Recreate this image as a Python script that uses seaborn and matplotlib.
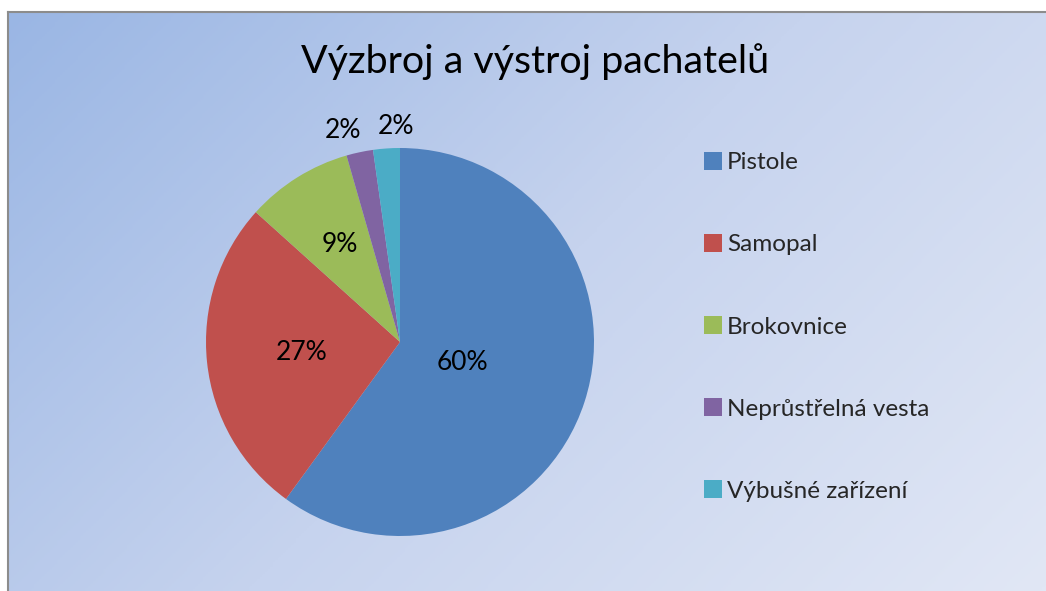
import numpy as np
import matplotlib
matplotlib.use("Agg")
import matplotlib.pyplot as plt
import seaborn as sns
from matplotlib.colors import LinearSegmentedColormap

# data (counts giving 60/27/9/2/2 %)
categories = ["Pistole", "Samopal", "Brokovnice", "Neprůstřelná vesta", "Výbušné zařízení"]
counts = [27, 12, 4, 1, 1]
title = "Výzbroj a výstroj pachatelů"

colors = sns.color_palette(["#4F81BD", "#C0504D", "#9BBB59", "#8064A2", "#4BACC6"])
label_dist = [0.34, 0.51, 0.59, 1.13, 1.11]
label_shift = [0, 0, 0, 3, -3]   # degrees, to keep small labels apart

sns.set_theme(style="white")
plt.rcParams["font.family"] = ["Lato", "DejaVu Sans"]

W, H = 1046, 591
fig = plt.figure(figsize=(W / 100, H / 100), dpi=100)
fig.patch.set_facecolor("white")

# gradient background with grey border on left/top
bg = fig.add_axes([8 / W, 0, 1 - 8 / W, 1 - 12 / H])
xx, yy = np.meshgrid(np.linspace(0, 1, 400), np.linspace(0, 1, 240))
grad = 0.65 * xx + 0.35 * yy
cmap = LinearSegmentedColormap.from_list("bg", ["#9AB6E4", "#C6D3EE", "#E1E7F5"])
bg.imshow(grad, cmap=cmap, aspect="auto", extent=[0, 1, 0, 1], origin="upper")
bg.set_xticks([])
bg.set_yticks([])
for side in ["right", "bottom"]:
    bg.spines[side].set_visible(False)
for side in ["left", "top"]:
    bg.spines[side].set_color("#8C8C8C")
    bg.spines[side].set_linewidth(1.5)

# pie
cx, cy, r = 400, 342, 194
ax = fig.add_axes([(cx - r) / W, (H - cy - r) / H, 2 * r / W, 2 * r / H])
ax.set_facecolor("none")
wedges, _ = ax.pie(counts, colors=colors, startangle=90, counterclock=False,
                   radius=1, wedgeprops=dict(linewidth=0))
ax.set_xlim(-1, 1)
ax.set_ylim(-1, 1)
ax.axis("off")

total = sum(counts)
for w, c, d, s in zip(wedges, counts, label_dist, label_shift):
    ang = np.deg2rad((w.theta1 + w.theta2) / 2 + s)
    ax.text(d * np.cos(ang), d * np.sin(ang), f"{c / total * 100:.0f}%",
            ha="center", va="center", fontsize=19, color="black", clip_on=False)

fig.text(535 / W, 1 - 62 / H, title, ha="center", va="center", fontsize=28.4, color="black")

fig.legend(wedges, categories, loc="upper left", bbox_to_anchor=(682 / W, 1 - 130 / H),
           frameon=False, fontsize=17.5, handlelength=0.75, handleheight=0.75,
           handletextpad=0.2, labelspacing=2.5)

fig.savefig("out.png", dpi=100)
